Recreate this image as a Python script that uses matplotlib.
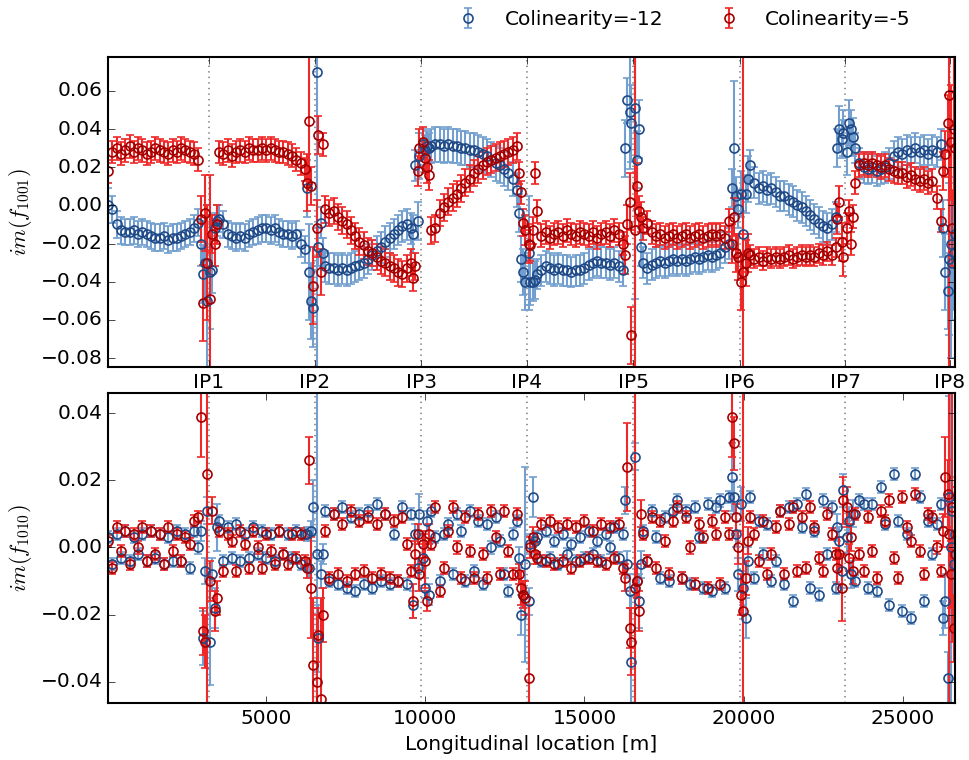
import numpy as np
import matplotlib
matplotlib.use('Agg')
import matplotlib.pyplot as plt

plt.style.use('classic')
plt.rcParams.update({
    'figure.facecolor': 'white', 'savefig.facecolor': 'white',
    'axes.linewidth': 1.5, 'font.size': 14.5, 'mathtext.fontset': 'cm',
    'font.family': ['DejaVu Sans'],
    'xtick.major.size': 5, 'ytick.major.size': 5,
})

# ---------------- data ----------------
ip_pos = [3210, 6540, 9870, 13195, 16525, 19880, 23180, 26475]
ip_labels = ['IP1', 'IP2', 'IP3', 'IP4', 'IP5', 'IP6', 'IP7', 'IP8']
x_ticks = [5000, 10000, 15000, 20000, 25000]

s = [45, 180, 315, 450, 585, 720, 855, 990, 1125, 1260, 1395, 1530, 1665, 1800, 1935, 2070, 2205, 2340, 2475, 2610, 2745, 2880,
     2960, 3030, 3100, 3160, 3260, 3320, 3390, 3460,
     3525, 3660, 3795, 3930, 4065, 4200, 4335, 4470, 4605, 4740, 4875, 5010, 5145, 5280, 5415, 5550, 5685, 5820, 5955, 6090, 6225,
     6290, 6360, 6430, 6490, 6590, 6650, 6720, 6790,
     6855, 6990, 7125, 7260, 7395, 7530, 7665, 7800, 7935, 8070, 8205, 8340, 8475, 8610, 8745, 8880, 9015, 9150, 9285, 9420, 9555,
     9620, 9690, 9760, 9820, 9920, 9980, 10050, 10120,
     10185, 10320, 10455, 10590, 10725, 10860, 10995, 11130, 11265, 11400, 11535, 11670, 11805, 11940, 12075, 12210, 12345, 12480, 12615, 12750, 12885,
     12945, 13015, 13085, 13145, 13245, 13305, 13375, 13445,
     13510, 13645, 13780, 13915, 14050, 14185, 14320, 14455, 14590, 14725, 14860, 14995, 15130, 15265, 15400, 15535, 15670, 15805, 15940, 16075, 16210,
     16275, 16345, 16415, 16475, 16575, 16635, 16705, 16775,
     16840, 16975, 17110, 17245, 17380, 17515, 17650, 17785, 17920, 18055, 18190, 18325, 18460, 18595, 18730, 18865, 19000, 19135, 19270, 19405, 19540,
     19630, 19700, 19770, 19830, 19930, 19990, 20060, 20130,
     20195, 20330, 20465, 20600, 20735, 20870, 21005, 21140, 21275, 21410, 21545, 21680, 21815, 21950, 22085, 22220, 22355, 22490, 22625, 22760, 22895,
     22930, 23000, 23070, 23130, 23230, 23290, 23360, 23430,
     23495, 23630, 23765, 23900, 24035, 24170, 24305, 24440, 24575, 24710, 24845, 24980, 25115, 25250, 25385, 25520, 25655, 25790, 25925, 26060, 26195,
     26260, 26330, 26400, 26450, 26500, 26545, 26590, 26630]

# im(f1001), Colinearity=-12
f1001_c12 = [0.000, -0.002, -0.010, -0.013, -0.014, -0.014, -0.013, -0.015, -0.014, -0.015, -0.016, -0.017, -0.017, -0.016, -0.018, -0.017, -0.017, -0.016, -0.015, -0.014, -0.012, -0.009,
    -0.020, -0.036, -0.030, -0.050, -0.035, -0.034, -0.012, -0.008,
    -0.007, -0.010, -0.015, -0.016, -0.017, -0.016, -0.017, -0.015, -0.014, -0.013, -0.012, -0.012, -0.013, -0.012, -0.014, -0.015, -0.015, -0.016, -0.015, -0.020, -0.023,
    0.009, -0.035, -0.050, -0.054, 0.070, -0.022, -0.009, -0.025,
    -0.032, -0.033, -0.033, -0.034, -0.033, -0.034, -0.033, -0.032, -0.031, -0.030, -0.028, -0.026, -0.024, -0.022, -0.019, -0.017, -0.015, -0.013, -0.011, -0.010, -0.012,
    -0.015, 0.021, -0.008, 0.026, 0.032, 0.029, 0.031, 0.030,
    0.031, 0.032, 0.032, 0.031, 0.032, 0.031, 0.031, 0.030, 0.030, 0.029, 0.029, 0.028, 0.027, 0.026, 0.024, 0.022, 0.021, 0.019, 0.017, 0.014, 0.008,
    -0.004, -0.028, -0.035, -0.040, -0.025, -0.040, -0.040, -0.039,
    -0.036, -0.034, -0.032, -0.033, -0.034, -0.033, -0.034, -0.034, -0.035, -0.034, -0.034, -0.033, -0.031, -0.030, -0.029, -0.030, -0.030, -0.031, -0.030, -0.032, -0.034,
    0.030, 0.055, 0.049, 0.043, 0.051, 0.024, 0.040, -0.022,
    -0.030, -0.033, -0.031, -0.030, -0.029, -0.030, -0.029, -0.028, -0.029, -0.028, -0.029, -0.028, -0.027, -0.028, -0.027, -0.026, -0.027, -0.026, -0.025, -0.022, -0.020,
    0.009, 0.030, 0.005, -0.002, 0.006, -0.015, 0.006, 0.014,
    0.021, 0.012, 0.009, 0.010, 0.008, 0.009, 0.007, 0.005, 0.005, 0.003, 0.002, 0.000, -0.001, -0.003, -0.005, -0.007, -0.009, -0.011, -0.012, -0.010, -0.006,
    0.030, 0.040, 0.035, 0.038, 0.028, 0.043, 0.040, 0.036,
    0.030, 0.022, 0.020, 0.019, 0.020, 0.018, 0.019, 0.020, 0.022, 0.026, 0.028, 0.027, 0.029, 0.028, 0.030, 0.028, 0.029, 0.027, 0.029, 0.028, 0.032,
    -0.012, -0.035, -0.045, -0.028, -0.020, -0.030, -0.025, -0.015]
f1001_c12_err = ([0.009] + [0.007] * 21 + [0.012, 0.015, 0.02, 0.05, 0.03, 0.012, 0.008, 0.008]
    + [0.007] * 21 + [0.015, 0.025, 0.02, 0.02, 0.2, 0.01, 0.008, 0.008]
    + [0.008] * 21 + [0.01, 0.008, 0.01, 0.012, 0.008, 0.008, 0.008, 0.008]
    + [0.009] * 21 + [0.01, 0.012, 0.012, 0.015, 0.03, 0.012, 0.01, 0.01]
    + [0.008] * 21 + [0.015, 0.012, 0.03, 0.02, 0.1, 0.015, 0.015, 0.01]
    + [0.008] * 21 + [0.01, 0.035, 0.01, 0.01, 0.012, 0.012, 0.01, 0.012]
    + [0.008] * 21 + [0.01, 0.012, 0.01, 0.012, 0.012, 0.012, 0.01, 0.01]
    + [0.008] * 21 + [0.015, 0.02, 0.02, 0.04, 0.06, 0.03, 0.03, 0.03])

# im(f1001), Colinearity=-5
f1001_c5 = [0.018, 0.028, 0.030, 0.027, 0.029, 0.031, 0.028, 0.030, 0.029, 0.027, 0.028, 0.030, 0.029, 0.028, 0.027, 0.029, 0.028, 0.030, 0.029, 0.028, 0.027, 0.024,
    -0.007, -0.051, -0.004, -0.030, -0.049, -0.015, -0.020, -0.010,
    0.028, 0.027, 0.029, 0.026, 0.028, 0.029, 0.028, 0.030, 0.029, 0.029, 0.030, 0.029, 0.030, 0.029, 0.028, 0.028, 0.027, 0.026, 0.024, 0.022, 0.019,
    0.012, 0.044, 0.010, -0.042, -0.012, 0.037, -0.035, 0.032,
    -0.002, -0.004, -0.003, -0.006, -0.008, -0.010, -0.013, -0.016, -0.019, -0.021, -0.024, -0.025, -0.027, -0.029, -0.030, -0.032, -0.033, -0.035, -0.036, -0.033, -0.030,
    -0.038, -0.032, 0.018, 0.030, 0.033, 0.025, 0.020, 0.016,
    -0.013, -0.012, -0.004, -0.001, 0.002, 0.004, 0.006, 0.009, 0.012, 0.014, 0.017, 0.019, 0.021, 0.023, 0.024, 0.025, 0.026, 0.027, 0.028, 0.029, 0.031,
    0.017, 0.007, -0.009, -0.013, -0.020, -0.021, -0.013, 0.017,
    -0.003, -0.016, -0.014, -0.017, -0.015, -0.014, -0.016, -0.013, -0.015, -0.016, -0.014, -0.015, -0.016, -0.014, -0.017, -0.015, -0.014, -0.016, -0.013, -0.015, -0.020,
    -0.026, -0.010, 0.002, -0.068, -0.013, 0.010, -0.003, -0.006,
    -0.012, -0.009, -0.014, -0.016, -0.015, -0.017, -0.016, -0.015, -0.017, -0.016, -0.015, -0.017, -0.016, -0.015, -0.017, -0.016, -0.015, -0.016, -0.015, -0.017, -0.008,
    -0.020, -0.006, -0.025, -0.027, -0.040, -0.035, -0.030, -0.025,
    -0.026, -0.028, -0.027, -0.029, -0.027, -0.028, -0.027, -0.028, -0.027, -0.026, -0.028, -0.027, -0.026, -0.027, -0.026, -0.027, -0.025, -0.026, -0.024, -0.026, -0.022,
    -0.007, 0.002, -0.019, -0.027, -0.012, -0.003, -0.020, -0.006,
    0.012, 0.021, 0.022, 0.021, 0.022, 0.021, 0.020, 0.021, 0.019, 0.018, 0.017, 0.017, 0.015, 0.016, 0.014, 0.013, 0.014, 0.012, 0.013, 0.004, -0.008,
    0.018, 0.027, 0.043, 0.058, 0.033, -0.012, 0.040, 0.030]
f1001_c5_err = ([0.006] * 22 + [0.012, 0.02, 0.02, 0.03, 0.065, 0.01, 0.012, 0.01]
    + [0.006] * 21 + [0.015, 0.035, 0.01, 0.02, 0.015, 0.01, 0.012, 0.006]
    + [0.007] * 21 + [0.007, 0.007, 0.008, 0.01, 0.008, 0.008, 0.008, 0.008]
    + [0.007] * 21 + [0.006, 0.006, 0.007, 0.008, 0.01, 0.008, 0.007, 0.006]
    + [0.006] * 21 + [0.01, 0.01, 0.015, 0.015, 0.1, 0.012, 0.008, 0.008]
    + [0.006] * 21 + [0.01, 0.01, 0.01, 0.012, 0.015, 0.15, 0.012, 0.01]
    + [0.005] * 21 + [0.008, 0.008, 0.01, 0.01, 0.008, 0.006, 0.006, 0.006]
    + [0.006] * 21 + [0.01, 0.012, 0.015, 0.2, 0.03, 0.02, 0.04, 0.03])

# im(f1010), Colinearity=-12
f1010_c12 = [0.003, -0.005, 0.004, -0.003, 0.005, -0.004, 0.003, -0.002, 0.004, -0.004, 0.005, -0.003, 0.004, -0.005, 0.003, -0.004, 0.005, -0.004, 0.004, -0.006, 0.005, 0.000,
    0.005, -0.027, -0.007, 0.011, -0.028, -0.008, -0.018, 0.006,
    0.008, -0.004, 0.006, -0.003, 0.007, -0.004, 0.004, -0.003, 0.006, -0.002, 0.005, -0.003, 0.004, -0.004, 0.005, -0.002, 0.004, -0.003, 0.005, -0.005, 0.004,
    0.004, -0.006, 0.005, 0.012, -0.002, -0.027, -0.008, -0.002,
    0.011, -0.010, 0.010, -0.011, 0.012, -0.012, 0.009, -0.013, 0.010, -0.011, 0.011, -0.012, 0.013, -0.010, 0.010, -0.011, 0.004, -0.010, 0.012, -0.011, 0.010,
    -0.017, 0.004, -0.006, 0.010, -0.003, -0.012, 0.008, -0.014,
    0.011, 0.003, -0.010, 0.004, 0.007, -0.008, 0.010, 0.005, -0.010, 0.011, -0.007, 0.008, -0.011, 0.007, 0.000, 0.009, 0.002, -0.008, -0.013, 0.004, 0.008,
    -0.003, -0.020, -0.014, -0.005, -0.016, 0.001, 0.015, 0.002,
    0.003, -0.004, 0.005, -0.003, 0.002, -0.005, 0.004, -0.002, 0.001, -0.004, 0.003, -0.003, 0.005, -0.002, 0.002, -0.004, 0.004, 0.000, 0.006, -0.003, 0.004,
    0.014, -0.005, -0.013, -0.034, 0.027, -0.010, -0.016, -0.005,
    0.005, -0.004, 0.011, 0.003, -0.009, 0.009, -0.010, 0.011, 0.014, -0.009, 0.011, -0.011, 0.012, 0.003, -0.012, 0.013, -0.013, 0.012, 0.014, -0.012, 0.015,
    0.021, 0.015, 0.004, -0.008, 0.013, -0.012, -0.021, -0.004,
    0.015, -0.009, 0.008, -0.002, 0.007, -0.010, -0.004, 0.011, -0.011, 0.012, -0.016, 0.013, 0.006, 0.016, -0.012, 0.005, -0.014, 0.014, -0.002, 0.012, -0.012,
    0.006, 0.002, -0.007, 0.017, 0.003, 0.008, -0.008, 0.010,
    -0.010, 0.014, 0.013, -0.012, 0.013, -0.013, 0.018, 0.007, -0.017, 0.022, 0.008, -0.019, 0.004, -0.021, 0.022, 0.015, -0.016, 0.008, -0.002, 0.007, 0.013,
    -0.021, -0.016, -0.039, 0.015, 0.000, 0.011, -0.005, 0.004]
f1010_c12_err = ([0.0018] * 22 + [0.003, 0.008, 0.004, 0.004, 0.013, 0.005, 0.006, 0.007]
    + [0.0018] * 21 + [0.002, 0.003, 0.003, 0.008, 0.1, 0.01, 0.004, 0.003]
    + [0.0018] * 21 + [0.004, 0.003, 0.003, 0.006, 0.003, 0.003, 0.003, 0.003]
    + [0.0018] * 21 + [0.003, 0.006, 0.004, 0.029, 0.004, 0.003, 0.006, 0.003]
    + [0.0018] * 21 + [0.004, 0.004, 0.005, 0.02, 0.004, 0.005, 0.008, 0.004]
    + [0.0018] * 21 + [0.01, 0.005, 0.004, 0.005, 0.005, 0.005, 0.006, 0.004]
    + [0.0018] * 21 + [0.004, 0.004, 0.005, 0.005, 0.005, 0.004, 0.004, 0.004]
    + [0.0018] * 21 + [0.005, 0.008, 0.008, 0.03, 0.1, 0.01, 0.01, 0.01])

# im(f1010), Colinearity=-5
f1010_c5 = [0.002, -0.006, 0.006, -0.001, 0.005, -0.005, 0.004, 0.000, 0.006, -0.004, 0.005, -0.002, 0.004, -0.005, 0.006, -0.001, 0.004, -0.004, 0.003, 0.001, 0.008, 0.009,
    0.039, -0.025, -0.028, 0.022, -0.010, 0.011, -0.019, -0.015,
    0.005, -0.007, 0.004, 0.002, -0.007, 0.005, 0.001, -0.006, 0.005, 0.000, -0.006, 0.004, -0.001, -0.005, 0.005, -0.002, -0.005, 0.004, -0.003, 0.004, -0.004,
    -0.006, 0.026, -0.012, -0.035, -0.040, -0.026, -0.045, -0.020,
    0.005, -0.009, 0.010, -0.008, 0.007, -0.010, 0.011, -0.008, 0.008, -0.007, 0.009, -0.009, 0.007, -0.008, 0.010, -0.009, 0.008, -0.010, 0.009, 0.001, -0.007,
    -0.016, -0.002, 0.004, -0.008, 0.001, -0.004, -0.016, 0.004,
    0.001, 0.012, -0.013, -0.006, 0.005, 0.012, 0.000, -0.009, 0.009, -0.001, -0.009, 0.010, -0.002, -0.009, 0.011, 0.003, -0.008, 0.011, -0.001, -0.008, 0.010,
    -0.008, -0.012, -0.014, -0.015, -0.039, 0.000, 0.003, -0.002,
    -0.003, 0.007, -0.004, 0.008, -0.005, 0.006, -0.004, 0.007, -0.006, 0.006, -0.004, 0.008, -0.003, 0.005, -0.004, 0.007, -0.005, 0.006, -0.003, 0.007, -0.006,
    -0.009, 0.024, -0.024, -0.028, -0.012, -0.010, -0.019, 0.010,
    0.004, -0.004, 0.009, -0.006, 0.008, 0.002, -0.008, 0.008, 0.012, -0.009, 0.009, 0.000, -0.011, 0.007, 0.003, -0.012, 0.008, 0.004, -0.011, 0.009, 0.004,
    0.039, 0.031, 0.009, 0.000, -0.014, -0.019, -0.009, 0.002,
    0.009, 0.004, -0.004, 0.008, -0.008, -0.002, 0.006, 0.011, -0.008, 0.007, 0.012, -0.007, 0.009, -0.006, 0.012, 0.006, -0.003, -0.007, 0.010, 0.004, -0.002,
    -0.006, -0.002, -0.012, 0.014, 0.012, -0.003, 0.003, -0.007,
    0.010, -0.002, -0.007, 0.009, -0.001, -0.009, 0.011, 0.008, 0.014, -0.003, -0.009, 0.015, 0.006, 0.002, 0.016, -0.001, -0.008, 0.010, 0.009, 0.000, -0.007,
    0.005, 0.021, 0.016, 0.004, -0.008, 0.012, -0.024, -0.002]
f1010_c5_err = ([0.0018] * 22 + [0.012, 0.007, 0.008, 0.1, 0.006, 0.004, 0.006, 0.005]
    + [0.0018] * 21 + [0.003, 0.007, 0.015, 0.02, 0.02, 0.008, 0.03, 0.008]
    + [0.0018] * 21 + [0.005, 0.004, 0.003, 0.005, 0.004, 0.008, 0.003, 0.003]
    + [0.0018] * 21 + [0.003, 0.005, 0.004, 0.005, 0.022, 0.003, 0.003, 0.003]
    + [0.0018] * 21 + [0.004, 0.013, 0.006, 0.01, 0.1, 0.005, 0.006, 0.004]
    + [0.0018] * 21 + [0.012, 0.008, 0.004, 0.005, 0.006, 0.1, 0.005, 0.004]
    + [0.0018] * 21 + [0.005, 0.005, 0.01, 0.007, 0.006, 0.004, 0.004, 0.004]
    + [0.0018] * 21 + [0.005, 0.012, 0.01, 0.1, 0.01, 0.04, 0.01, 0.02])

series_labels = ['Colinearity=-12', 'Colinearity=-5']

for arr in (f1001_c12, f1001_c12_err, f1001_c5, f1001_c5_err,
            f1010_c12, f1010_c12_err, f1010_c5, f1010_c5_err):
    assert len(arr) == len(s), len(arr)

# ---------------- plot ----------------
blue_kw = dict(fmt='o', color='#204a87', mfc='none', mec='#204a87', ecolor='#729fcf',
               ms=6.5, mew=1.2, elinewidth=1.5, capsize=3, capthick=1.5)
red_kw = dict(fmt='o', color='#a40000', mfc='none', mec='#a40000', ecolor='#ef2929',
              ms=6.5, mew=1.2, elinewidth=1.5, capsize=3, capthick=1.5)

fig = plt.figure(figsize=(9.7, 7.6), dpi=100)
ax1 = fig.add_axes([0.1113, 0.5171, 0.8732, 0.4079])
ax2 = fig.add_axes([0.1113, 0.0750, 0.8732, 0.4079])

for ax in (ax1, ax2):
    for p in ip_pos:
        ax.axvline(p, color='0.55', ls=':', lw=1.3, zorder=0)
    ax.set_xlim(41, 26632)

h1 = ax1.errorbar(s, f1001_c12, yerr=f1001_c12_err, label=series_labels[0], **blue_kw)
h2 = ax1.errorbar(s, f1001_c5, yerr=f1001_c5_err, label=series_labels[1], **red_kw)
ax2.errorbar(s, f1010_c12, yerr=f1010_c12_err, **blue_kw)
ax2.errorbar(s, f1010_c5, yerr=f1010_c5_err, **red_kw)

ax1.set_ylim(-0.0847, 0.0778)
ax1.set_yticks([-0.08, -0.06, -0.04, -0.02, 0.0, 0.02, 0.04, 0.06])
ax1.set_xticks(ip_pos)
ax1.set_xticklabels(ip_labels)
ax1.set_ylabel(r'$im(f_{1001})$', fontsize=16)

ax2.set_ylim(-0.0463, 0.046)
ax2.set_yticks([-0.04, -0.02, 0.0, 0.02, 0.04])
ax2.set_xticks(x_ticks)
ax2.set_ylabel(r'$im(f_{1010})$', fontsize=16)
ax2.set_xlabel('Longitudinal location [m]')

ax1.legend(handles=[h1, h2], loc='center right', bbox_to_anchor=(0.969, 1.12),
           ncol=2, frameon=False, numpoints=1, columnspacing=2.25,
           handletextpad=0.8, fontsize=14.5)

fig.savefig('out.png', dpi=100)
